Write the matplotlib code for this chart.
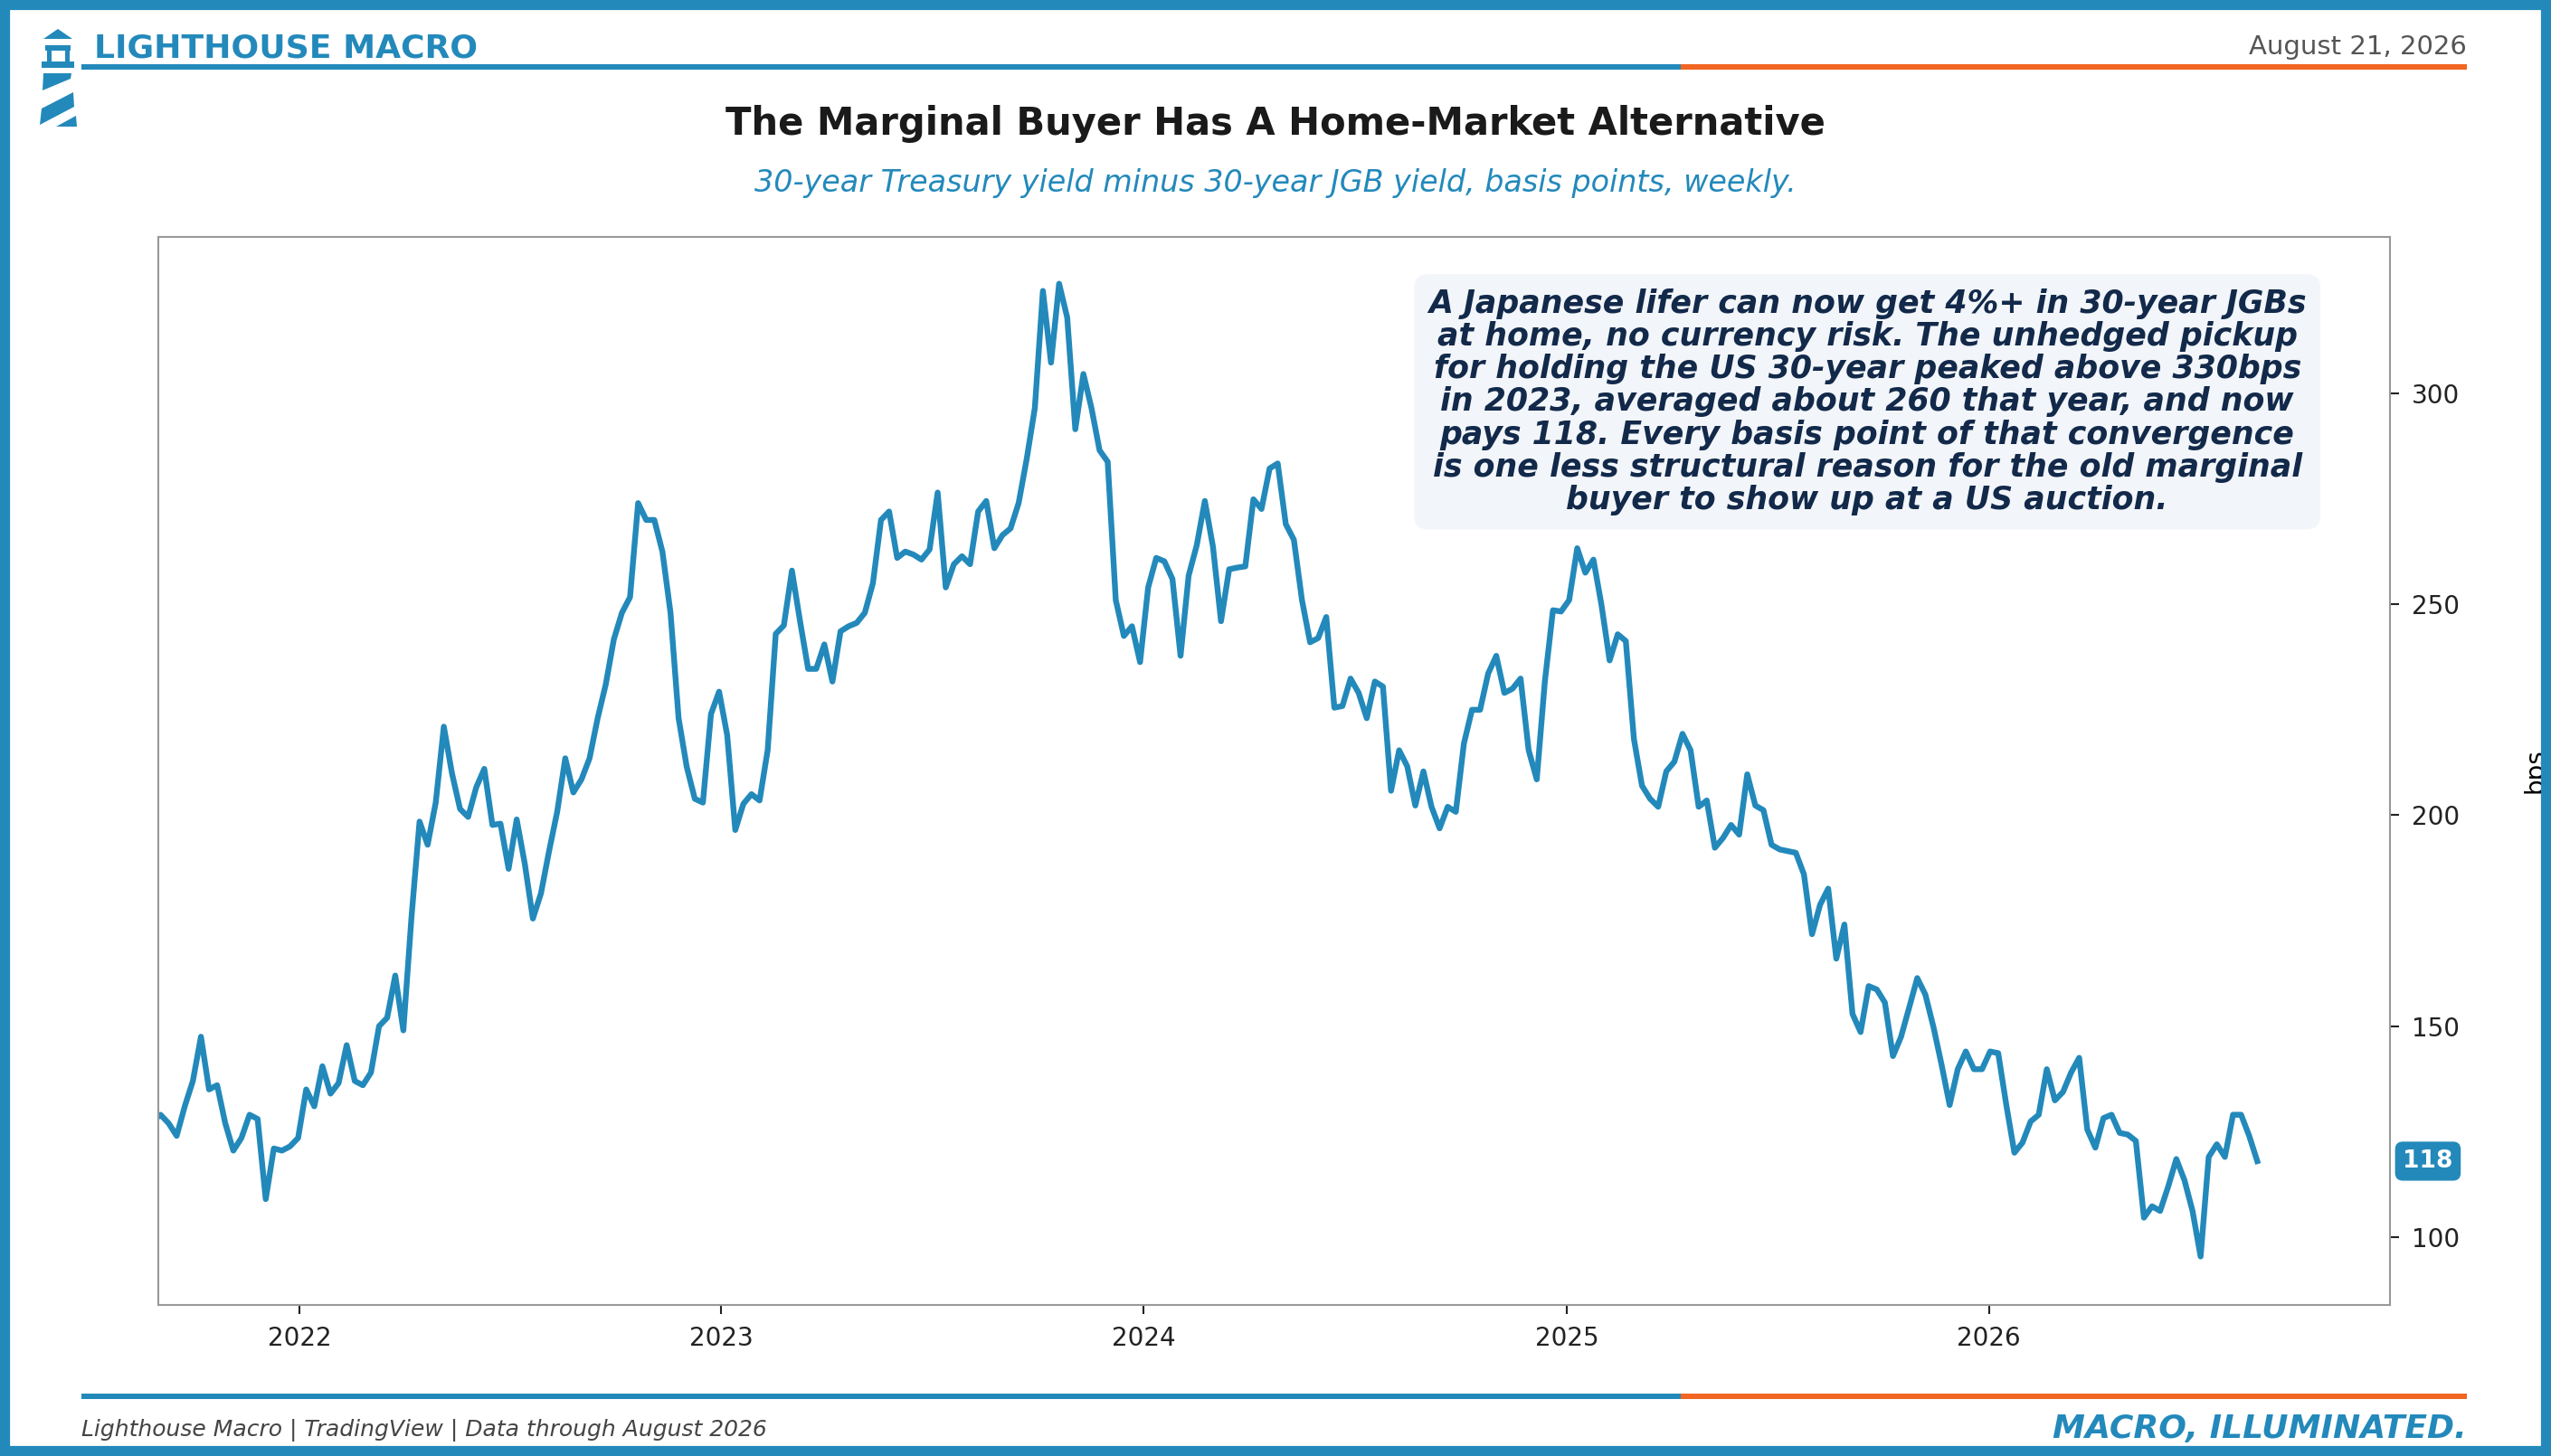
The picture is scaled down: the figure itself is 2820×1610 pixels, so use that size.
import numpy as np
import pandas as pd
import matplotlib.pyplot as plt
import matplotlib.dates as mdates
from matplotlib.patches import Polygon, Rectangle

BLUE = "#2389bb"
ORANGE = "#f26522"
NAVY = "#12294a"

# weekly spread, bps
spread = [
    127.4, 129, 127, 124, 131, 137, 147.5, 135, 136, 127, 120.5, 123.5, 129, 128, 109, 121,
    120.5, 121.5, 123.5, 135, 131, 140.5, 134, 136.5, 145.5, 137, 136, 139, 150, 152, 162, 149,
    175.7, 198.5, 193, 203, 221, 210, 201.5, 199.6, 206.6, 211, 197.7, 198, 187.3, 199, 188.5, 175.5,
    181.5, 191.5, 200.8, 213.5, 205.4, 208.5, 213.5, 223, 231, 241.7, 248, 251.7, 274, 270, 270, 262.5,
    248, 223, 211.5, 203.9, 203, 224, 229.3, 219, 196.5, 202.7, 205, 203.5, 215.4, 243, 245, 258,
    246, 234.7, 234.7, 240.5, 231.7, 243.6, 244.8, 245.6, 248, 255, 270, 272, 261, 262.5, 261.8, 260.6,
    263, 276.5, 254, 259.5, 261.4, 259.5, 272, 274.5, 263.3, 266.4, 268, 274, 284.5, 296.5, 324.3, 307.3,
    326, 318, 291.5, 304.6, 296.5, 286.5, 283.8, 251, 242.5, 244.8, 236.3, 254, 261, 260.2, 256, 237.8,
    256.8, 264, 274.5, 263.7, 246, 258.3, 258.7, 259, 274.9, 272.6, 282.2, 283.4, 269, 265.3, 251, 241,
    242, 247, 225.5, 225.9, 232.4, 229, 223, 231.7, 230.5, 205.8, 215.4, 211.6, 202.3, 210.4, 202, 196.9,
    202, 200.8, 217, 225, 225, 233.6, 237.8, 229, 230, 232.4, 215.4, 208.5, 231.7, 248.6, 248.3, 251,
    263.3, 257.5, 260.6, 249.8, 236.7, 242.9, 241.3, 218.1, 207, 203.9, 202, 210.4, 212.7, 219.3, 215.4, 202,
    203.5, 192.3, 194.6, 197.7, 195.4, 209.7, 202.3, 201.2, 193, 191.9, 191.5, 191.1, 186, 171.8, 178.8, 182.6,
    166, 174.1, 152.9, 148.6, 159.5, 158.7, 155.6, 142.9, 147.5, 154.4, 161.4, 157.5, 149.8, 140.9, 131.3, 139.8,
    144, 139.8, 139.8, 144, 143.6, 131.3, 120, 122.4, 127.4, 129, 139.8, 132.4, 134.4, 139, 142.5, 125.5,
    121.2, 128.2, 129, 124.7, 124.3, 122.8, 104.6, 107.3, 106.2, 112, 118.5, 113.5, 106.2, 95.4, 119, 122,
    119, 129, 129, 124, 118,
]
dates = pd.date_range(end="2026-08-21", periods=len(spread), freq="7D")

fig = plt.figure(figsize=(28.2, 16.1), dpi=100)
ax = fig.add_axes([0.062, 0.104, 0.875, 0.733])

ax.plot(dates, spread, color=BLUE, lw=4.6)
ax.set_xlim(pd.Timestamp("2021-09-01"), pd.Timestamp("2026-12-14"))
ax.set_ylim(84, 337)
ax.set_yticks([100, 150, 200, 250, 300])
ax.yaxis.tick_right()
ax.yaxis.set_label_position("right")
ax.set_ylabel("bps", fontsize=20, labelpad=50)
ax.xaxis.set_major_locator(mdates.YearLocator())
ax.xaxis.set_major_formatter(mdates.DateFormatter("%Y"))
ax.tick_params(labelsize=20, length=7, width=1.5, colors="#222222", pad=10)
for s in ax.spines.values():
    s.set_color("#999999")
    s.set_linewidth(1.5)

# last value tag
ax.annotate(f"{spread[-1]:.0f}", xy=(1.0, spread[-1]), xycoords=("axes fraction", "data"),
            xytext=(10, 0), textcoords="offset points", ha="left", va="center",
            fontsize=19, fontweight="bold", color="white",
            bbox=dict(boxstyle="round,pad=0.3", fc=BLUE, ec=BLUE))

note = ("A Japanese lifer can now get 4%+ in 30-year JGBs\n"
        "at home, no currency risk. The unhedged pickup\n"
        "for holding the US 30-year peaked above 330bps\n"
        "in 2023, averaged about 260 that year, and now\n"
        "pays 118. Every basis point of that convergence\n"
        "is one less structural reason for the old marginal\n"
        "buyer to show up at a US auction.")
fig.text(0.732, 0.724, note, ha="center", va="center", fontsize=25, fontweight="bold",
         fontstyle="italic", color=NAVY, linespacing=1.08,
         bbox=dict(boxstyle="round,pad=0.45", fc="#f2f5f9", ec="none"))

# titles
fig.text(0.5, 0.915, "The Marginal Buyer Has A Home-Market Alternative", ha="center",
         va="center", fontsize=30, fontweight="bold", color="#1a1a1a")
fig.text(0.5, 0.874, "30-year Treasury yield minus 30-year JGB yield, basis points, weekly.",
         ha="center", va="center", fontsize=24, fontstyle="italic", color=BLUE)

# header / footer
fig.text(0.037, 0.967, "LIGHTHOUSE MACRO", ha="left", va="center", fontsize=26,
         fontweight="bold", color=BLUE)
fig.text(0.967, 0.968, "August 21, 2026", ha="right", va="center", fontsize=21, color="#555555")
fig.text(0.032, 0.010, "Lighthouse Macro | TradingView | Data through August 2026",
         ha="left", va="bottom", fontsize=18, fontstyle="italic", color="#444444")
fig.text(0.967, 0.008, "MACRO, ILLUMINATED.", ha="right", va="bottom", fontsize=26,
         fontweight="bold", fontstyle="italic", color=BLUE)
for y in (0.954, 0.041):
    fig.add_artist(Rectangle((0.032, y - 0.002), 0.627, 0.004, transform=fig.transFigure,
                             color=BLUE, lw=0))
    fig.add_artist(Rectangle((0.659, y - 0.002), 0.308, 0.004, transform=fig.transFigure,
                             color=ORANGE, lw=0))

# lighthouse logo
W, H = 2820, 1610
def px(pts):
    return [(x / W, 1 - y / H) for x, y in pts]
logo = [
    [(48, 43), (64, 32), (80, 43)],
    [(50, 50), (78, 50), (78, 56), (50, 56)],
    [(52, 56), (57, 56), (57, 68), (52, 68)],
    [(72, 56), (77, 56), (77, 68), (72, 68)],
    [(46, 68), (82, 68), (82, 75), (46, 75)],
    [(48, 81), (79, 81), (78, 87), (47, 100)],
    [(46, 120), (81, 102), (82, 118), (44, 138)],
    [(62, 140), (84, 128), (85, 140)],
]
for poly in logo:
    fig.add_artist(Polygon(px(poly), closed=True, transform=fig.transFigure, fc=BLUE, ec="none"))

# outer frame
fig.add_artist(Rectangle((0, 0), 1, 1, transform=fig.transFigure,
                         fill=False, ec=BLUE, lw=16))

fig.savefig("out.png", dpi=100)
